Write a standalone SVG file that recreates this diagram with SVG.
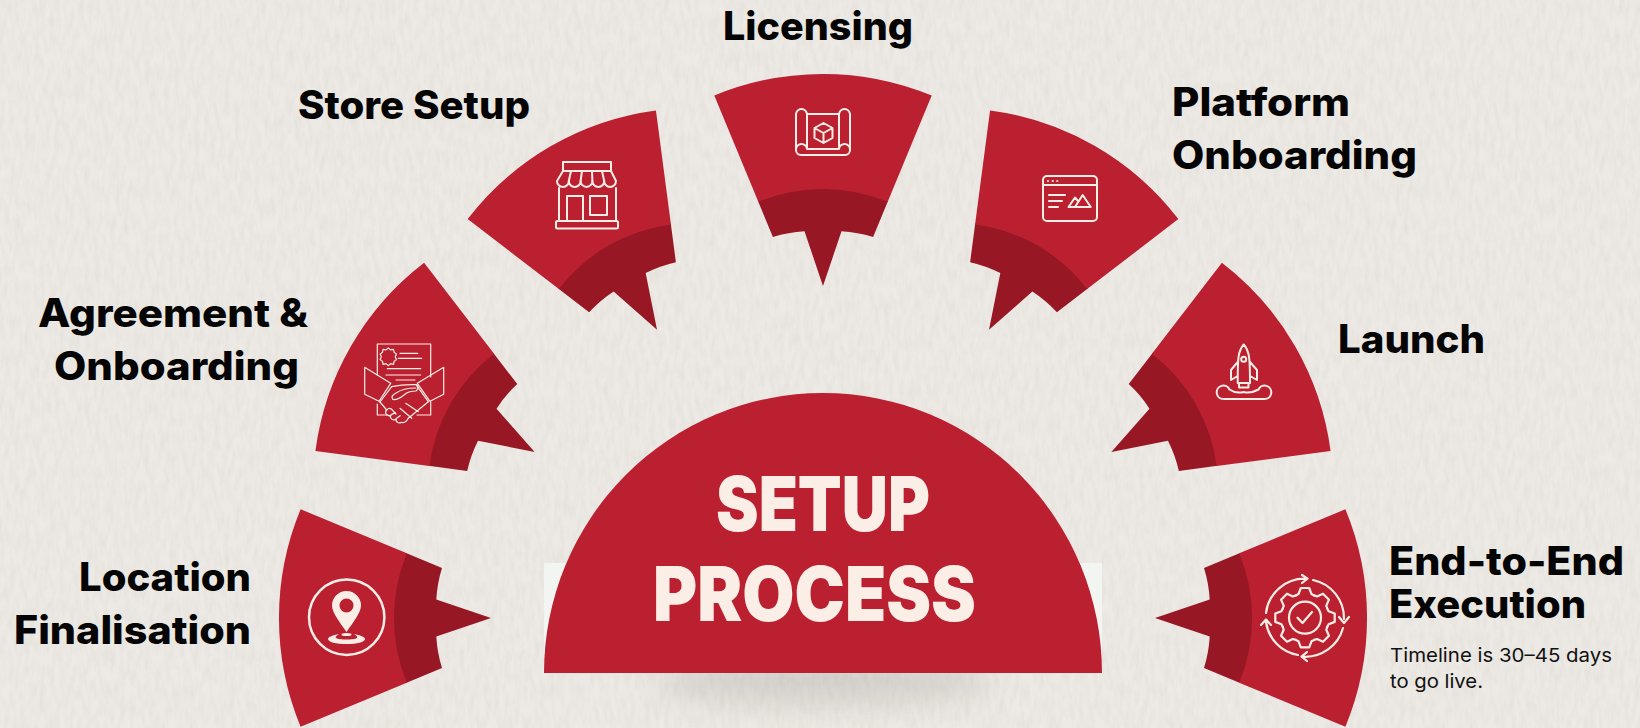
<svg xmlns="http://www.w3.org/2000/svg" xmlns:xlink="http://www.w3.org/1999/xlink" width="1640" height="728" viewBox="0 0 1640 728">
<defs>
<style>
.lbl{font-family:"Inter","Liberation Sans",sans-serif;font-weight:800;font-size:39px;fill:#050505}
.sub{font-family:"Inter","Liberation Sans",sans-serif;font-size:19px;fill:#111}
.ttl{font-family:"Inter","Liberation Sans",sans-serif;font-weight:900;font-size:76px;fill:#fbeee6}
.ic{fill:none;stroke:#fbeee6;stroke-width:2;stroke-linecap:round;stroke-linejoin:round}
.icf{fill:#fbeee6;stroke:none}
.ric{fill:#bb2030}
.rid{fill:#981724}
</style>
<filter id="paper" x="0" y="0" width="100%" height="100%">
<feTurbulence type="fractalNoise" baseFrequency="0.2 0.06" numOctaves="3" seed="7"/>
<feColorMatrix values="0 0 0 0 0.55  0 0 0 0 0.52  0 0 0 0 0.47  0.36 0 0 0 -0.12"/>
</filter>
<filter id="soft" x="-30%" y="-100%" width="160%" height="300%"><feGaussianBlur stdDeviation="17"/></filter>
<g id="wedge">
<path class="rid" d="M-50.1 -121 A131 131 0 0 1 -18.5 -126.7 L0 -72 L18.5 -126.7 A131 131 0 0 1 50.1 -121 L65 -157 A169 169 0 0 0 -65 -157Z"/>
<path class="ric" d="M-108.700 -262.400 A284 284 0 0 1 108.700 -262.400 L64.700 -156.200 A169 169 0 0 0 -64.700 -156.200Z"/>
</g>
<path id="tooth" d="M-9.2 -22.2 L-6.5 -23.6 L-4.2 -29.7 H4.2 L6.5 -23.6 L9.2 -22.2"/>
</defs>
<rect width="1640" height="728" fill="#edeae5"/>
<rect width="1640" height="728" filter="url(#paper)"/>

<g id="connectors"></g>

<g id="center">
<ellipse cx="823" cy="680" rx="170" ry="20" fill="#8a857e" opacity=".3" filter="url(#soft)"/>
<rect x="544" y="563" width="558" height="109" fill="#f3f5f3"/>
<path class="ric" d="M544 673 A279 280 0 0 1 1102 673Z"/>
<text class="ttl" x="716" y="531" textLength="214" lengthAdjust="spacingAndGlyphs">SETUP</text>
<text class="ttl" x="653" y="621" textLength="323" lengthAdjust="spacingAndGlyphs">PROCESS</text>
</g>

<g id="location-finalisation">
<use xlink:href="#wedge" href="#wedge" transform="translate(563 618) rotate(-90)"/>
<circle class="ic" cx="346.700" cy="617.300" r="37.700" style="stroke-width:2.500"/>
<path class="icf" fill-rule="evenodd" d="M346.500 591 A14.500 14.500 0 0 1 361 605.500 C361 613 352 624 346.500 632 C341 624 332 613 332 605.500 A14.500 14.500 0 0 1 346.500 591Z M339.500 605.500 a7 7 0 1 0 14 0 a7 7 0 1 0 -14 0Z"/>
<path class="icf" d="M339 634 C333 635 328 637 328 639 C328 642 336 644 346.500 644 C357 644 365 642 365 639 C365 637 360 635 354 634 C357 636 358 637 357 638 C354 640 339 640 336 638 C335 637 336 636 339 634Z"/>
<ellipse class="icf" cx="346.500" cy="634.500" rx="5" ry="1.500"/>
<text class="lbl" text-anchor="end" x="251" y="591" textLength="172" lengthAdjust="spacingAndGlyphs">Location</text>
<text class="lbl" text-anchor="end" x="251" y="644" textLength="237" lengthAdjust="spacingAndGlyphs">Finalisation</text>
</g>

<g id="agreement-onboarding">
<use xlink:href="#wedge" href="#wedge" transform="translate(597 488) rotate(-60)"/>
<g class="ic" style="stroke-width:1.200">
<path d="M377.300 375 V344 H430.700 V377 M377.300 404 V415 H388 M430.700 402 V415 H417"/>
<path d="M364.700 367.300 L390.700 383.300 L379 401.300 L364.700 394.300Z M443.700 367.300 L417.300 383.300 L430 401.300 L443.700 394.300Z"/>
<path d="M391.700 386.700 L380 402 M416.700 385.700 L428.300 401.700"/>
<path d="M391.700 386.700 Q404 384 416.700 384.700 Q420 388 416 391 Q408 391 404 395 Q398 400 393 399.500 Q390 396 396 393 Q403 388 416 388"/>
<path d="M428.300 401.700 L408.300 418.300 M405.700 403.300 L418.300 411.700 M400 408.300 L411.700 418.300 M380 402 L386.700 410"/>
<path d="M386.700 410 a3.200 3.200 0 0 0 4.600 4.600 a3.200 3.200 0 0 0 5 4 a3.200 3.200 0 0 0 5 3.600 Q405 424 408.300 418.300 M386.700 410 a3.200 3.200 0 0 1 4.600 -1 L396 414 M391.300 414.600 l4 -2 M396.300 418.600 l4 -3"/>
<path d="M388.300 348.500 l2.300 1.900 l2.900 -.6 l.6 2.900 l2.400 1.900 l-1.300 2.700 l1.300 2.700 l-2.400 1.900 l-.6 2.900 l-2.900 -.6 l-2.300 1.900 l-2.300 -1.900 l-2.900 .6 l-.6 -2.900 l-2.400 -1.900 l1.300 -2.700 l-1.300 -2.700 l2.400 -1.900 l.6 -2.900 l2.900 .6Z" transform="translate(0 -.5)"/>
<path d="M400 353.300 H417.700 M398.300 358.300 H421.700 M387.300 368.700 H420.700 M386 375 H420.700 M396 380 H415"/>
</g>
<text class="lbl" x="38" y="327" textLength="270" lengthAdjust="spacingAndGlyphs">Agreement &amp;</text>
<text class="lbl" x="54" y="380" textLength="245" lengthAdjust="spacingAndGlyphs">Onboarding</text>
</g>

<g id="store-setup">
<use xlink:href="#wedge" href="#wedge" transform="translate(693 392) rotate(-30)"/>
<g class="ic">
<path d="M563 171 V162 H611 V171"/>
<path d="M563 171 H611 L616 181 a5.900 5.900 0 0 1 -11.800 0 a5.900 5.900 0 0 1 -11.800 0 a5.900 5.900 0 0 1 -11.800 0 a5.900 5.900 0 0 1 -11.800 0 a5.900 5.900 0 0 1 -11.800 0Z"/>
<path d="M568.800 181 L571 171 M580.600 181 L582 171 M592.400 181 L592 171 M604.200 181 L602 171"/>
<path d="M559 188 V221 M616 188 V221 M567 221 V196 H583 V221 M590 196 H607 V215 H590Z"/>
<rect x="556" y="221" width="62" height="7.500" rx="1.500"/>
</g>
<text class="lbl" x="298" y="119" textLength="232" lengthAdjust="spacingAndGlyphs">Store Setup</text>
</g>

<g id="licensing">
<use xlink:href="#wedge" href="#wedge" transform="translate(823 358)"/>
<g class="ic">
<path d="M807 148 V114.500 a5.500 5.500 0 0 0 -11 0 V150 a5 5 0 0 0 5 5 H845 a5 5 0 0 0 5 -5 V114.500 a5.500 5.500 0 0 0 -11 0 V148"/>
<path d="M807 114 H839 M807 149 H839 M796 150 a5.500 5.500 0 0 1 11 -1 M850 150 a5.500 5.500 0 0 0 -11 -1"/>
<path d="M823.500 123 L832.500 128 V138 L823.500 143 L814.500 138 V128Z M814.500 128 L823.500 133 L832.500 128 M823.500 133 V143"/>
</g>
<text class="lbl" x="723" y="40" textLength="190" lengthAdjust="spacingAndGlyphs">Licensing</text>
</g>

<g id="platform-onboarding">
<use xlink:href="#wedge" href="#wedge" transform="translate(953 392) rotate(30)"/>
<g class="ic">
<rect x="1043" y="176" width="54" height="45" rx="4"/>
<path d="M1043 185 H1097"/>
<path d="M1049 195 H1065 M1049 201 H1062 M1049 207 H1058"/>
<path d="M1068.500 207 H1090.700 L1082.700 195 L1075 207 M1068.500 207 L1075 197.500 L1078 201"/>
</g>
<g class="icf"><circle cx="1048" cy="181" r="1.100"/><circle cx="1052.700" cy="181" r="1.100"/><circle cx="1057.300" cy="181" r="1.100"/></g>
<text class="lbl" x="1172" y="116" textLength="178" lengthAdjust="spacingAndGlyphs">Platform</text>
<text class="lbl" x="1172" y="169" textLength="245" lengthAdjust="spacingAndGlyphs">Onboarding</text>
</g>

<g id="launch">
<use xlink:href="#wedge" href="#wedge" transform="translate(1049 488) rotate(60)"/>
<g class="ic">
<path d="M1243.700 344.500 C1238 351 1237.700 358 1237.700 383 H1250 C1250 358 1249.500 351 1243.700 344.500Z M1237.700 362 L1231 370 V380 L1237.700 376 M1250 362 L1257 370 V380 L1250 376 M1239 383 V387.500 H1248.500 V383"/>
<circle cx="1243.700" cy="359.300" r="2.500"/>
<path d="M1223.500 399 H1264.500 a6.700 6.700 0 1 0 -6 -9.500 Q1250 394 1243.700 392 Q1236 394 1229.500 389.500 a6.700 6.700 0 1 0 -6 9.500Z"/>
</g>
<text class="lbl" x="1338" y="353" textLength="147" lengthAdjust="spacingAndGlyphs">Launch</text>
</g>

<g id="end-to-end">
<use xlink:href="#wedge" href="#wedge" transform="translate(1083 618) rotate(90)"/>
<g class="ic" style="stroke-width:2.200">
<circle cx="1305" cy="617.700" r="16"/>
<path d="M1297.500 617.700 L1302.500 623 L1312 612"/>
<g transform="translate(1305 617.700)">
<use xlink:href="#tooth" href="#tooth"/>
<use xlink:href="#tooth" href="#tooth" transform="rotate(45)"/>
<use xlink:href="#tooth" href="#tooth" transform="rotate(90)"/>
<use xlink:href="#tooth" href="#tooth" transform="rotate(135)"/>
<use xlink:href="#tooth" href="#tooth" transform="rotate(180)"/>
<use xlink:href="#tooth" href="#tooth" transform="rotate(225)"/>
<use xlink:href="#tooth" href="#tooth" transform="rotate(270)"/>
<use xlink:href="#tooth" href="#tooth" transform="rotate(315)"/>
</g>
<path d="M1266 613 A39 39 0 0 1 1306 578.700 M1302 575 L1307.500 578.700 L1302 583"/>
<path d="M1313 580 A39 39 0 0 1 1344 619 M1339 617 L1344 623 L1349 617"/>
<path d="M1343 628 A39 39 0 0 1 1303 656.700 M1307 652 L1301.500 656.700 L1307 661"/>
<path d="M1298 655 A39 39 0 0 1 1266 622 M1261 625 L1266 619.500 L1271 625"/>
</g>
<text class="lbl" x="1389" y="574.500" textLength="235" lengthAdjust="spacingAndGlyphs">End-to-End</text>
<text class="lbl" x="1389" y="618" textLength="197" lengthAdjust="spacingAndGlyphs">Execution</text>
<text class="sub" x="1390" y="662" textLength="222" lengthAdjust="spacingAndGlyphs">Timeline is 30–45 days</text>
<text class="sub" x="1390" y="688" textLength="93" lengthAdjust="spacingAndGlyphs">to go live.</text>
</g>
</svg>
